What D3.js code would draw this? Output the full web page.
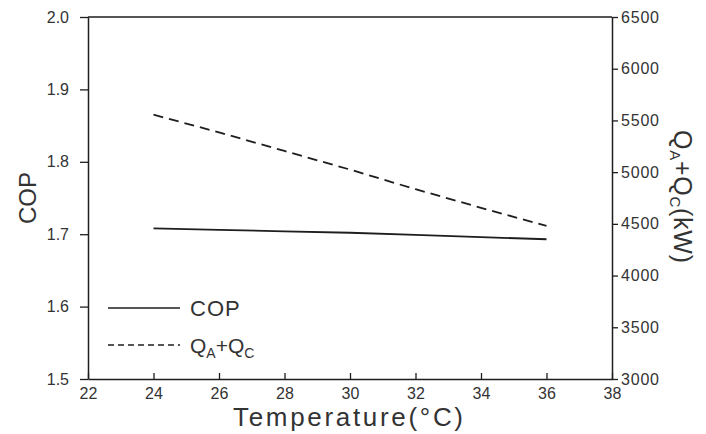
<!DOCTYPE html>
<html>
<head>
<meta charset="utf-8">
<script src="https://cdn.jsdelivr.net/npm/d3@7"></script>
<style>
  body { margin: 0; background: #fff; }
  text { font-family: "Liberation Sans", "DejaVu Sans", sans-serif; fill: #222; }
</style>
</head>
<body>
<div id="grafico"></div>
<script>
// dados
var temperatures = [24, 26, 28, 30, 32, 34, 36];
var copValues = [1.708, 1.706, 1.704, 1.702, 1.699, 1.696, 1.693];
var heatValues = [5555, 5385, 5205, 5025, 4835, 4655, 4480];
var xTicks = [22, 24, 26, 28, 30, 32, 34, 36, 38];
var copTicks = [1.5, 1.6, 1.7, 1.8, 1.9, 2.0];
var heatTicks = [3000, 3500, 4000, 4500, 5000, 5500, 6000, 6500];

var width = 706, height = 434;
var margin = {top: 17, right: 94, bottom: 55, left: 88};
var plotWidth = width - margin.left - margin.right;
var plotHeight = height - margin.top - margin.bottom;
var ink = "#1e1e1e";

var svg = d3.select("#grafico").append("svg")
    .attr("width", width).attr("height", height);

var plotArea = svg.append("g")
    .attr("transform", "translate(" + margin.left + "," + margin.top + ")");

var xScale = d3.scaleLinear().domain([22, 38]).range([0, plotWidth]);
var yLeft = d3.scaleLinear().domain([1.5, 2.0]).range([plotHeight, 0]);
var yRight = d3.scaleLinear().domain([3000, 6500]).range([plotHeight, 0]);

// moldura (topo)
plotArea.append("line")
    .attr("x1", 0).attr("x2", plotWidth).attr("y1", 0).attr("y2", 0)
    .attr("stroke", ink).attr("stroke-width", 1.5);

// eixo x
var xAxis = plotArea.append("g")
    .attr("transform", "translate(0," + plotHeight + ")")
    .call(d3.axisBottom(xScale).tickValues(xTicks).tickSizeInner(-6).tickSizeOuter(0).tickPadding(6));
// eixo esquerdo
var lAxis = plotArea.append("g")
    .call(d3.axisLeft(yLeft).tickValues(copTicks).tickFormat(d3.format(".1f")).tickSizeInner(8).tickSizeOuter(0).tickPadding(11));
// eixo direito
var rAxis = plotArea.append("g")
    .attr("transform", "translate(" + plotWidth + ",0)")
    .call(d3.axisRight(yRight).tickValues(heatTicks).tickFormat(d3.format("d")).tickSizeInner(6).tickSizeOuter(0).tickPadding(3));

[xAxis, lAxis, rAxis].forEach(function(a){
    a.select(".domain").attr("stroke", ink).attr("stroke-width", 1.5);
    a.selectAll(".tick line").attr("stroke", ink).attr("stroke-width", 1.3);
    a.selectAll(".tick text").style("font-size", "16px").style("fill", "#333");
});
xAxis.selectAll(".tick text").attr("dy", "0.85em");
rAxis.selectAll(".tick text").style("letter-spacing", "0.8px");

// linha COP
var copLine = d3.line()
    .x(function(d, i){ return xScale(temperatures[i]); })
    .y(function(d){ return yLeft(d); });
plotArea.append("path")
    .datum(copValues)
    .attr("d", copLine)
    .attr("fill", "none").attr("stroke", ink).attr("stroke-width", 1.8);

// linha QA+QC
var heatLine = d3.line()
    .x(function(d, i){ return xScale(temperatures[i]); })
    .y(function(d){ return yRight(d); });
plotArea.append("path")
    .datum(heatValues)
    .attr("d", heatLine)
    .attr("fill", "none").attr("stroke", ink).attr("stroke-width", 1.8)
    .attr("stroke-dasharray", "10,6");

// títulos dos eixos
svg.append("text")
    .attr("x", 233).attr("y", 426)
    .attr("font-size", 26)
    .attr("textLength", 230).attr("lengthAdjust", "spacing")
    .style("fill", "#333")
    .text("Temperature(°C)");

svg.append("text")
    .attr("transform", "translate(36," + (margin.top + yLeft(1.75)) + ") rotate(-90)")
    .attr("text-anchor", "middle").attr("font-size", 24)
    .style("fill", "#333")
    .text("COP");

var rLabel = svg.append("text")
    .attr("transform", "translate(674,130) rotate(90)")
    .attr("font-size", 25)
    .attr("textLength", 133).attr("lengthAdjust", "spacing")
    .style("fill", "#333");
rLabel.append("tspan").text("Q");
rLabel.append("tspan").attr("font-size", 15).attr("dy", 4).text("A");
rLabel.append("tspan").attr("dy", -4).text("+Q");
rLabel.append("tspan").attr("font-size", 15).attr("dy", 4).text("C");
rLabel.append("tspan").attr("dy", -4).text("(kW)");

// legenda
var legend = svg.append("g").attr("transform", "translate(108,308)");
legend.append("line")
    .attr("x1", 0).attr("x2", 72).attr("y1", 0).attr("y2", 0)
    .attr("stroke", ink).attr("stroke-width", 1.5);
legend.append("text")
    .attr("x", 82).attr("y", 8).attr("font-size", 22)
    .style("letter-spacing", "1px")
    .style("fill", "#333").text("COP");
legend.append("line")
    .attr("x1", 0).attr("x2", 72).attr("y1", 37).attr("y2", 37)
    .attr("stroke", ink).attr("stroke-width", 1.5)
    .attr("stroke-dasharray", "6,4");
var lt = legend.append("text")
    .attr("x", 82).attr("y", 45).attr("font-size", 21)
    .style("fill", "#333");
lt.append("tspan").text("Q");
lt.append("tspan").attr("font-size", 14).attr("dy", 5).text("A");
lt.append("tspan").attr("dy", -5).text("+Q");
lt.append("tspan").attr("font-size", 14).attr("dy", 5).text("C");
</script>
</body>
</html>
